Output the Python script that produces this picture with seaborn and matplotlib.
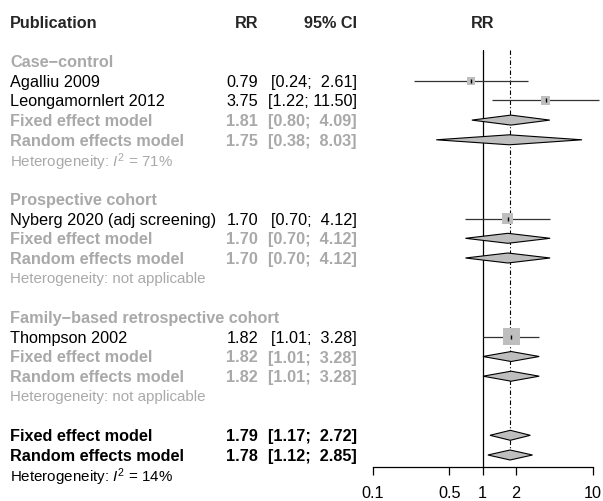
import numpy as np
import pandas as pd
import matplotlib.pyplot as plt
import matplotlib.transforms as mtransforms
from matplotlib.patches import Polygon
import seaborn as sns

sns.set_style("white")
plt.rcParams['font.family'] = ['Liberation Sans', 'DejaVu Sans']
plt.rcParams['mathtext.fontset'] = 'custom'
plt.rcParams['mathtext.rm'] = 'Liberation Sans'
plt.rcParams['mathtext.it'] = 'Liberation Sans:italic'

# 数据
group_names = ["Case\u2212control", "Prospective cohort", "Family\u2212based retrospective cohort"]
study_names = ["Agalliu 2009", "Leongamornlert 2012", "Nyberg 2020 (adj screening)", "Thompson 2002"]
study_group = [0, 0, 1, 2]
study_rr = [0.79, 3.75, 1.70, 1.82]
study_lo = [0.24, 1.22, 0.70, 1.01]
study_hi = [2.61, 11.50, 4.12, 3.28]
study_weight = [12.4, 14.0, 22.5, 51.1]

sub_fixed_rr = [1.81, 1.70, 1.82]
sub_fixed_lo = [0.80, 0.70, 1.01]
sub_fixed_hi = [4.09, 4.12, 3.28]
sub_random_rr = [1.75, 1.70, 1.82]
sub_random_lo = [0.38, 0.70, 1.01]
sub_random_hi = [8.03, 4.12, 3.28]
sub_het = [r"$I^2$ = 71%", "not applicable", "not applicable"]

overall_rr = [1.79, 1.78]
overall_lo = [1.17, 1.12]
overall_hi = [2.72, 2.85]
overall_het = r"$I^2$ = 14%"
model_labels = ["Fixed effect model", "Random effects model"]

xticks = [0.1, 0.5, 1, 2, 10]
xtick_labels = ["0.1", "0.5", "1", "2", "10"]

GRAY = "#A9A9A9"
FS = 11.7
FS_HET = 10.9


def ci_text(lo, hi):
    return f"[{lo:.2f}; {hi:>5.2f}]"


# 行布局
text_rows = []   # (row, label, rr, ci, color, bold, kind)
squares = []     # (row, rr, lo, hi, weight)
diamonds = []    # (row, rr, lo, hi)
r = 0
for g, gname in enumerate(group_names):
    text_rows.append((r, gname, None, None, GRAY, True, "label"))
    r += 1
    for i, name in enumerate(study_names):
        if study_group[i] != g:
            continue
        text_rows.append((r, name, study_rr[i], ci_text(study_lo[i], study_hi[i]), "black", False, "study"))
        squares.append((r, study_rr[i], study_lo[i], study_hi[i], study_weight[i]))
        r += 1
    for lab, est, lo, hi in [(model_labels[0], sub_fixed_rr[g], sub_fixed_lo[g], sub_fixed_hi[g]),
                             (model_labels[1], sub_random_rr[g], sub_random_lo[g], sub_random_hi[g])]:
        text_rows.append((r, lab, est, ci_text(lo, hi), GRAY, True, "model"))
        diamonds.append((r, est, lo, hi))
        r += 1
    text_rows.append((r, "Heterogeneity: " + sub_het[g], None, None, GRAY, False, "het"))
    r += 2
for k in range(2):
    text_rows.append((r, model_labels[k], overall_rr[k], ci_text(overall_lo[k], overall_hi[k]), "black", True, "model"))
    diamonds.append((r, overall_rr[k], overall_lo[k], overall_hi[k]))
    r += 1
text_rows.append((r, "Heterogeneity: " + overall_het, None, None, "black", False, "het"))

# 坐标
W, H = 603, 501
ROW_PX = 19.7
Y0 = 61.0
X_LEFT = 372.5
DEC_PX = 110.0

fig = plt.figure(figsize=(W / 100, H / 100), dpi=100)
ax = fig.add_axes([X_LEFT / W, 0, 1 - X_LEFT / W, 1])
ax.set_xscale("log")
ax.set_xlim(0.1, 10 ** (-1 + (W - X_LEFT) / DEC_PX))
ax.set_ylim((H - Y0) / ROW_PX, -Y0 / ROW_PX)
ax.patch.set_alpha(0)

axis_row = (467 - Y0) / ROW_PX
top_row = (50 - Y0) / ROW_PX

# 参考线
ax.plot([1, 1], [top_row, axis_row], color="black", lw=0.9, clip_on=False)
ax.plot([overall_rr[0]] * 2, [top_row, (460 - Y0) / ROW_PX], color="black", lw=0.8,
        ls=(0, (4, 2, 1, 2)), clip_on=False)

# 研究: 置信区间, 方块
sq = pd.DataFrame(squares, columns=["row", "rr", "lo", "hi", "weight"])
ax.hlines(sq["row"], sq["lo"], sq["hi"], color="#333333", lw=0.9, clip_on=False, zorder=2)
size_map = {w: (2.38 * np.sqrt(w) * 0.72) ** 2 for w in study_weight}
sns.scatterplot(data=sq, x="rr", y="row", size="weight", sizes=size_map, marker="s",
                color="#BEBEBE", linewidth=0, legend=False, ax=ax, zorder=3, clip_on=False)
sns.scatterplot(data=sq, x="rr", y="row", marker="|", s=9, color="black", linewidth=1.0,
                legend=False, ax=ax, zorder=4, clip_on=False)

# 菱形
dh = 5.0 / ROW_PX
for row, est, lo, hi in diamonds:
    poly = Polygon([(lo, row), (est, row - dh), (hi, row), (est, row + dh)], closed=True,
                   facecolor="#BEBEBE", edgecolor="black", lw=0.8, zorder=3, clip_on=False)
    ax.add_patch(poly)

# 坐标轴
for s in ["top", "left", "right"]:
    ax.spines[s].set_visible(False)
ax.spines["bottom"].set_position(("data", axis_row))
ax.spines["bottom"].set_bounds(0.1, 10)
ax.spines["bottom"].set_linewidth(0.9)
ax.spines["bottom"].set_color("black")
ax.set_xticks(xticks)
ax.set_xticklabels(xtick_labels, fontsize=FS)
ax.xaxis.set_minor_locator(plt.NullLocator())
ax.tick_params(axis="x", direction="out", length=6, width=0.9, pad=8, bottom=True, colors="black")
ax.set_yticks([])
ax.set_xlabel("")
ax.set_ylabel("")

# 文本
tr = mtransforms.blended_transform_factory(fig.transFigure, ax.transData)
hdr_row = (22 - Y0) / ROW_PX
ax.text(10 / W, hdr_row, "Publication", transform=tr, fontsize=FS, fontweight="bold", va="center_baseline", ha="left")
ax.text(258 / W, hdr_row, "RR", transform=tr, fontsize=FS, fontweight="bold", va="center_baseline", ha="right")
ax.text(357 / W, hdr_row, "95% CI", transform=tr, fontsize=FS, fontweight="bold", va="center_baseline", ha="right")
ax.text(1, hdr_row, "RR", fontsize=FS, fontweight="bold", va="center_baseline", ha="center")

for row, label, est, ci, col, bold, kind in text_rows:
    fw = "bold" if bold else "normal"
    fs = FS_HET if kind == "het" else FS
    ax.text(10 / W, row, label, transform=tr, fontsize=fs, fontweight=fw, color=col,
            va="center_baseline", ha="left")
    if est is not None:
        ax.text(258 / W, row, f"{est:.2f}", transform=tr, fontsize=FS, fontweight=fw, color=col,
                va="center_baseline", ha="right")
        ax.text(357 / W, row, ci, transform=tr, fontsize=FS, fontweight=fw, color=col,
                va="center_baseline", ha="right")

fig.savefig("out.png", dpi=100)
